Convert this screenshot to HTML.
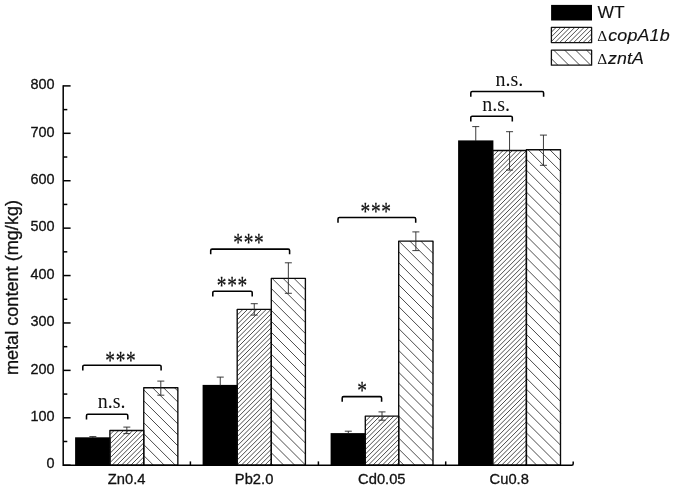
<!DOCTYPE html>
<html><head><meta charset="utf-8"><title>metal content</title>
<style>
html,body{margin:0;padding:0;background:#fff;}
body{width:675px;height:490px;overflow:hidden;}
svg{display:block;}
.sans{font-family:"Liberation Sans",sans-serif;}
.serif{font-family:"Liberation Serif",serif;}
</style></head><body>
<svg width="675" height="490" viewBox="0 0 675 490">
<rect width="675" height="490" fill="#fff"/>

<rect x="75.10" y="437.30" width="35.50" height="27.90" fill="#000"/>
<path d="M109.90,434.70L114.15,430.45M109.90,439.37L118.82,430.45M109.90,444.05L123.50,430.45M109.90,448.72L128.17,430.45M109.90,453.40L132.85,430.45M109.90,458.07L137.52,430.45M109.90,462.74L142.19,430.45M112.12,465.20L143.75,433.57M116.79,465.20L143.75,438.24M121.47,465.20L143.75,442.92M126.14,465.20L143.75,447.59M130.81,465.20L143.75,452.26M135.49,465.20L143.75,456.94M140.16,465.20L143.75,461.61" stroke="#4c4c4c" stroke-width="1.0" fill="none"/>
<rect x="109.90" y="430.45" width="33.85" height="34.75" fill="none" stroke="#0a0a0a" stroke-width="1.35" stroke-linejoin="round"/>
<path d="M174.50,387.75L177.85,391.10M163.55,387.75L177.85,402.05M152.60,387.75L177.85,413.00M143.75,389.85L177.85,423.95M143.75,400.80L177.85,434.90M143.75,411.75L177.85,445.85M143.75,422.70L177.85,456.80M143.75,433.65L175.30,465.20M143.75,444.60L164.35,465.20M143.75,455.55L153.40,465.20" stroke="#4c4c4c" stroke-width="1.0" fill="none"/>
<rect x="143.75" y="387.75" width="34.10" height="77.45" fill="none" stroke="#0a0a0a" stroke-width="1.35" stroke-linejoin="round"/>
<rect x="202.60" y="384.90" width="35.30" height="80.30" fill="#000"/>
<path d="M237.20,310.43L238.23,309.40M237.20,315.10L242.90,309.40M237.20,319.77L247.57,309.40M237.20,324.45L252.25,309.40M237.20,329.12L256.92,309.40M237.20,333.80L261.60,309.40M237.20,338.47L266.27,309.40M237.20,343.14L270.94,309.40M237.20,347.82L271.30,313.72M237.20,352.49L271.30,318.39M237.20,357.17L271.30,323.07M237.20,361.84L271.30,327.74M237.20,366.51L271.30,332.41M237.20,371.19L271.30,337.09M237.20,375.86L271.30,341.76M237.20,380.54L271.30,346.44M237.20,385.21L271.30,351.11M237.20,389.88L271.30,355.78M237.20,394.56L271.30,360.46M237.20,399.23L271.30,365.13M237.20,403.91L271.30,369.81M237.20,408.58L271.30,374.48M237.20,413.25L271.30,379.15M237.20,417.93L271.30,383.83M237.20,422.60L271.30,388.50M237.20,427.28L271.30,393.18M237.20,431.95L271.30,397.85M237.20,436.62L271.30,402.52M237.20,441.30L271.30,407.20M237.20,445.97L271.30,411.87M237.20,450.65L271.30,416.55M237.20,455.32L271.30,421.22M237.20,459.99L271.30,425.89M237.20,464.67L271.30,430.57M241.34,465.20L271.30,435.24M246.02,465.20L271.30,439.92M250.69,465.20L271.30,444.59M255.36,465.20L271.30,449.26M260.04,465.20L271.30,453.94M264.71,465.20L271.30,458.61M269.39,465.20L271.30,463.29" stroke="#4c4c4c" stroke-width="1.0" fill="none"/>
<rect x="237.20" y="309.40" width="34.10" height="155.80" fill="none" stroke="#0a0a0a" stroke-width="1.35" stroke-linejoin="round"/>
<path d="M305.00,278.40L305.40,278.80M294.05,278.40L305.40,289.75M283.10,278.40L305.40,300.70M272.15,278.40L305.40,311.65M271.30,288.50L305.40,322.60M271.30,299.45L305.40,333.55M271.30,310.40L305.40,344.50M271.30,321.35L305.40,355.45M271.30,332.30L305.40,366.40M271.30,343.25L305.40,377.35M271.30,354.20L305.40,388.30M271.30,365.15L305.40,399.25M271.30,376.10L305.40,410.20M271.30,387.05L305.40,421.15M271.30,398.00L305.40,432.10M271.30,408.95L305.40,443.05M271.30,419.90L305.40,454.00M271.30,430.85L305.40,464.95M271.30,441.80L294.70,465.20M271.30,452.75L283.75,465.20M271.30,463.70L272.80,465.20" stroke="#4c4c4c" stroke-width="1.0" fill="none"/>
<rect x="271.30" y="278.40" width="34.10" height="186.80" fill="none" stroke="#0a0a0a" stroke-width="1.35" stroke-linejoin="round"/>
<rect x="330.60" y="433.10" width="35.40" height="32.10" fill="#000"/>
<path d="M365.30,416.73L365.93,416.10M365.30,421.41L370.61,416.10M365.30,426.08L375.28,416.10M365.30,430.76L379.96,416.10M365.30,435.43L384.63,416.10M365.30,440.10L389.30,416.10M365.30,444.78L393.98,416.10M365.30,449.45L398.65,416.10M365.30,454.13L398.70,420.73M365.30,458.80L398.70,425.40M365.30,463.47L398.70,430.07M368.25,465.20L398.70,434.75M372.92,465.20L398.70,439.42M377.60,465.20L398.70,444.10M382.27,465.20L398.70,448.77M386.94,465.20L398.70,453.44M391.62,465.20L398.70,458.12M396.29,465.20L398.70,462.79" stroke="#4c4c4c" stroke-width="1.0" fill="none"/>
<rect x="365.30" y="416.10" width="33.40" height="49.10" fill="none" stroke="#0a0a0a" stroke-width="1.35" stroke-linejoin="round"/>
<path d="M431.75,241.10L433.00,242.35M420.80,241.10L433.00,253.30M409.85,241.10L433.00,264.25M398.90,241.10L433.00,275.20M398.70,251.85L433.00,286.15M398.70,262.80L433.00,297.10M398.70,273.75L433.00,308.05M398.70,284.70L433.00,319.00M398.70,295.65L433.00,329.95M398.70,306.60L433.00,340.90M398.70,317.55L433.00,351.85M398.70,328.50L433.00,362.80M398.70,339.45L433.00,373.75M398.70,350.40L433.00,384.70M398.70,361.35L433.00,395.65M398.70,372.30L433.00,406.60M398.70,383.25L433.00,417.55M398.70,394.20L433.00,428.50M398.70,405.15L433.00,439.45M398.70,416.10L433.00,450.40M398.70,427.05L433.00,461.35M398.70,438.00L425.90,465.20M398.70,448.95L414.95,465.20M398.70,459.90L404.00,465.20" stroke="#4c4c4c" stroke-width="1.0" fill="none"/>
<rect x="398.70" y="241.10" width="34.30" height="224.10" fill="none" stroke="#0a0a0a" stroke-width="1.35" stroke-linejoin="round"/>
<rect x="458.10" y="140.40" width="35.30" height="324.80" fill="#000"/>
<path d="M492.70,151.57L493.77,150.50M492.70,156.24L498.44,150.50M492.70,160.92L503.12,150.50M492.70,165.59L507.79,150.50M492.70,170.26L512.46,150.50M492.70,174.94L517.14,150.50M492.70,179.61L521.81,150.50M492.70,184.29L526.40,150.59M492.70,188.96L526.40,155.26M492.70,193.63L526.40,159.93M492.70,198.31L526.40,164.61M492.70,202.98L526.40,169.28M492.70,207.66L526.40,173.96M492.70,212.33L526.40,178.63M492.70,217.00L526.40,183.30M492.70,221.68L526.40,187.98M492.70,226.35L526.40,192.65M492.70,231.03L526.40,197.33M492.70,235.70L526.40,202.00M492.70,240.37L526.40,206.67M492.70,245.05L526.40,211.35M492.70,249.72L526.40,216.02M492.70,254.40L526.40,220.70M492.70,259.07L526.40,225.37M492.70,263.74L526.40,230.04M492.70,268.42L526.40,234.72M492.70,273.09L526.40,239.39M492.70,277.77L526.40,244.07M492.70,282.44L526.40,248.74M492.70,287.11L526.40,253.41M492.70,291.79L526.40,258.09M492.70,296.46L526.40,262.76M492.70,301.14L526.40,267.44M492.70,305.81L526.40,272.11M492.70,310.48L526.40,276.78M492.70,315.16L526.40,281.46M492.70,319.83L526.40,286.13M492.70,324.51L526.40,290.81M492.70,329.18L526.40,295.48M492.70,333.85L526.40,300.15M492.70,338.53L526.40,304.83M492.70,343.20L526.40,309.50M492.70,347.88L526.40,314.18M492.70,352.55L526.40,318.85M492.70,357.22L526.40,323.52M492.70,361.90L526.40,328.20M492.70,366.57L526.40,332.87M492.70,371.25L526.40,337.55M492.70,375.92L526.40,342.22M492.70,380.59L526.40,346.89M492.70,385.27L526.40,351.57M492.70,389.94L526.40,356.24M492.70,394.62L526.40,360.92M492.70,399.29L526.40,365.59M492.70,403.96L526.40,370.26M492.70,408.64L526.40,374.94M492.70,413.31L526.40,379.61M492.70,417.99L526.40,384.29M492.70,422.66L526.40,388.96M492.70,427.33L526.40,393.63M492.70,432.01L526.40,398.31M492.70,436.68L526.40,402.98M492.70,441.36L526.40,407.66M492.70,446.03L526.40,412.33M492.70,450.70L526.40,417.00M492.70,455.38L526.40,421.68M492.70,460.05L526.40,426.35M492.70,464.73L526.40,431.03M496.90,465.20L526.40,435.70M501.57,465.20L526.40,440.37M506.25,465.20L526.40,445.05M510.92,465.20L526.40,449.72M515.60,465.20L526.40,454.40M520.27,465.20L526.40,459.07M524.94,465.20L526.40,463.74" stroke="#4c4c4c" stroke-width="1.0" fill="none"/>
<rect x="492.70" y="150.50" width="33.70" height="314.70" fill="none" stroke="#0a0a0a" stroke-width="1.35" stroke-linejoin="round"/>
<path d="M549.75,149.70L560.50,160.45M538.80,149.70L560.50,171.40M527.85,149.70L560.50,182.35M526.40,159.20L560.50,193.30M526.40,170.15L560.50,204.25M526.40,181.10L560.50,215.20M526.40,192.05L560.50,226.15M526.40,203.00L560.50,237.10M526.40,213.95L560.50,248.05M526.40,224.90L560.50,259.00M526.40,235.85L560.50,269.95M526.40,246.80L560.50,280.90M526.40,257.75L560.50,291.85M526.40,268.70L560.50,302.80M526.40,279.65L560.50,313.75M526.40,290.60L560.50,324.70M526.40,301.55L560.50,335.65M526.40,312.50L560.50,346.60M526.40,323.45L560.50,357.55M526.40,334.40L560.50,368.50M526.40,345.35L560.50,379.45M526.40,356.30L560.50,390.40M526.40,367.25L560.50,401.35M526.40,378.20L560.50,412.30M526.40,389.15L560.50,423.25M526.40,400.10L560.50,434.20M526.40,411.05L560.50,445.15M526.40,422.00L560.50,456.10M526.40,432.95L558.65,465.20M526.40,443.90L547.70,465.20M526.40,454.85L536.75,465.20" stroke="#4c4c4c" stroke-width="1.0" fill="none"/>
<rect x="526.40" y="149.70" width="34.10" height="315.50" fill="none" stroke="#0a0a0a" stroke-width="1.35" stroke-linejoin="round"/>
<g stroke="#262626" stroke-width="0.9" fill="none">
<path d="M89.35,436.60H96.35M92.85,436.60V438.00"/>
<path d="M123.33,427.10H130.32M126.83,427.10V433.60M123.33,433.60H130.32"/>
<path d="M157.30,381.10H164.30M160.80,381.10V395.20M157.30,395.20H164.30"/>
<path d="M216.75,377.10H223.75M220.25,377.10V385.60"/>
<path d="M250.75,303.70H257.75M254.25,303.70V315.10M250.75,315.10H257.75"/>
<path d="M284.85,262.80H291.85M288.35,262.80V293.30M284.85,293.30H291.85"/>
<path d="M344.80,431.20H351.80M348.30,431.20V433.80"/>
<path d="M378.50,411.90H385.50M382.00,411.90V420.20M378.50,420.20H385.50"/>
<path d="M412.35,231.90H419.35M415.85,231.90V250.60M412.35,250.60H419.35"/>
<path d="M472.25,126.60H479.25M475.75,126.60V141.10"/>
<path d="M506.05,131.70H513.05M509.55,131.70V170.10M506.05,170.10H513.05"/>
<path d="M539.95,135.10H546.95M543.45,135.10V165.30M539.95,165.30H546.95"/>
</g>
<g stroke="#000" stroke-width="1.5" fill="none">
<path d="M63.2,85.15 V465.2 H571.7 q1.5,0 1.5,-1.5 v-2.3" stroke-linejoin="miter"/>
<path d="M63.2,465.20h7.4"/>
<path d="M63.2,441.49h4.1"/>
<path d="M63.2,417.79h7.4"/>
<path d="M63.2,394.08h4.1"/>
<path d="M63.2,370.38h7.4"/>
<path d="M63.2,346.67h4.1"/>
<path d="M63.2,322.96h7.4"/>
<path d="M63.2,299.26h4.1"/>
<path d="M63.2,275.55h7.4"/>
<path d="M63.2,251.84h4.1"/>
<path d="M63.2,228.14h7.4"/>
<path d="M63.2,204.43h4.1"/>
<path d="M63.2,180.73h7.4"/>
<path d="M63.2,157.02h4.1"/>
<path d="M63.2,133.31h7.4"/>
<path d="M63.2,109.61h4.1"/>
<path d="M63.2,85.90h7.4"/>
<path d="M190.40,465.2v-3.8"/>
<path d="M318.40,465.2v-3.8"/>
<path d="M445.70,465.2v-3.8"/>
</g>
<g class="sans" font-size="14.3" fill="#111" stroke="#111" stroke-width="0.3" text-anchor="end">
<text transform="translate(54.6,468.40) scale(1.01,1)">0</text>
<text transform="translate(54.6,420.99) scale(1.01,1)">100</text>
<text transform="translate(54.6,373.57) scale(1.01,1)">200</text>
<text transform="translate(54.6,326.16) scale(1.01,1)">300</text>
<text transform="translate(54.6,278.75) scale(1.01,1)">400</text>
<text transform="translate(54.6,231.34) scale(1.01,1)">500</text>
<text transform="translate(54.6,183.93) scale(1.01,1)">600</text>
<text transform="translate(54.6,136.51) scale(1.01,1)">700</text>
<text transform="translate(54.6,89.10) scale(1.01,1)">800</text>
</g>
<g class="sans" font-size="14.3" fill="#111" stroke="#111" stroke-width="0.3" text-anchor="middle">
<text transform="translate(126.60,484.4) scale(1.03,1)">Zn0.4</text>
<text transform="translate(254.10,484.4) scale(1.03,1)">Pb2.0</text>
<text transform="translate(381.80,484.4) scale(1.03,1)">Cd0.05</text>
<text transform="translate(509.20,484.4) scale(1.03,1)">Cu0.8</text>
</g>
<text class="sans" font-size="18.4" fill="#111" stroke="#111" stroke-width="0.3" text-anchor="middle" transform="translate(17.9,287.5) rotate(-90) scale(0.985,1)">metal content (mg/kg)</text>
<g stroke="#000" stroke-width="1.55" fill="none">
<path d="M82.8,370.40V366.60Q82.8,365.2 84.2,365.2H159.7Q161.1,365.2 161.1,366.60V370.40"/>
<path d="M86.5,419.50V415.70Q86.5,414.3 87.9,414.3H126.39999999999999Q127.8,414.3 127.8,415.70V419.50"/>
<path d="M210.7,254.30V250.50Q210.7,249.1 212.1,249.1H288.20000000000005Q289.6,249.1 289.6,250.50V254.30"/>
<path d="M212.8,296.40V292.60Q212.8,291.2 214.20000000000002,291.2H250.79999999999998Q252.2,291.2 252.2,292.60V296.40"/>
<path d="M338.0,222.70V218.90Q338.0,217.5 339.4,217.5H414.3Q415.7,217.5 415.7,218.90V222.70"/>
<path d="M342.2,401.80V398.00Q342.2,396.6 343.59999999999997,396.6H380.20000000000005Q381.6,396.6 381.6,398.00V401.80"/>
<path d="M470.8,96.70V92.90Q470.8,91.5 472.2,91.5H542.2Q543.6,91.5 543.6,92.90V96.70"/>
<path d="M470.8,121.40V117.60Q470.8,116.2 472.2,116.2H510.9Q512.3,116.2 512.3,117.60V121.40"/>
</g>
<g class="serif" font-size="19.4" letter-spacing="0.7" fill="#111" stroke="#111" stroke-width="0.2" text-anchor="middle">
<text transform="translate(120.85,368.50) scale(1,1.25)">***</text>
<text transform="translate(248.85,250.80) scale(1,1.25)">***</text>
<text transform="translate(232.35,293.70) scale(1,1.25)">***</text>
<text transform="translate(376.15,219.90) scale(1,1.25)">***</text>
<text transform="translate(362.35,398.50) scale(1,1.25)">*</text>
</g>
<g class="serif" font-size="20" fill="#111" text-anchor="middle">
<text x="111.7" y="408.0">n.s.</text>
<text x="509.4" y="85.6">n.s.</text>
<text x="496.1" y="110.8">n.s.</text>
</g>
<rect x="551.1" y="4.9" width="40.9" height="15.6" fill="#000"/>
<path d="M551.40,27.44L551.44,27.40M551.40,32.12L556.12,27.40M551.40,36.79L560.79,27.40M551.40,41.47L565.47,27.40M554.94,42.60L570.14,27.40M559.61,42.60L574.81,27.40M564.29,42.60L579.49,27.40M568.96,42.60L584.16,27.40M573.64,42.60L588.84,27.40M578.31,42.60L591.60,29.31M582.98,42.60L591.60,33.98M587.66,42.60L591.60,38.66" stroke="#4c4c4c" stroke-width="1.0" fill="none"/>
<rect x="551.4" y="27.4" width="40.2" height="15.2" fill="none" stroke="#111" stroke-width="1.3" stroke-linejoin="round"/>
<path d="M586.45,50.00L591.60,55.15M575.50,50.00L590.50,65.00M564.55,50.00L579.55,65.00M553.60,50.00L568.60,65.00M551.40,58.75L557.65,65.00" stroke="#4c4c4c" stroke-width="1.0" fill="none"/>
<rect x="551.4" y="50.2" width="40.2" height="15" fill="none" stroke="#111" stroke-width="1.3" stroke-linejoin="round"/>
<g class="sans" font-size="16.3" fill="#111" stroke="#111" stroke-width="0.12">
<text transform="translate(597.6,18) scale(1.07,1)">WT</text>
<text class="serif" font-size="15.5" stroke="none" x="597.3" y="41.3">Δ</text>
<text font-style="italic" letter-spacing="0.1" transform="translate(608.3,41.3) scale(1.1,1)">copA1b</text>
<text class="serif" font-size="15.5" stroke="none" x="597.3" y="63.8">Δ</text>
<text font-style="italic" letter-spacing="0.1" transform="translate(608,63.8) scale(1.09,1)">zntA</text>
</g>
</svg></body></html>
